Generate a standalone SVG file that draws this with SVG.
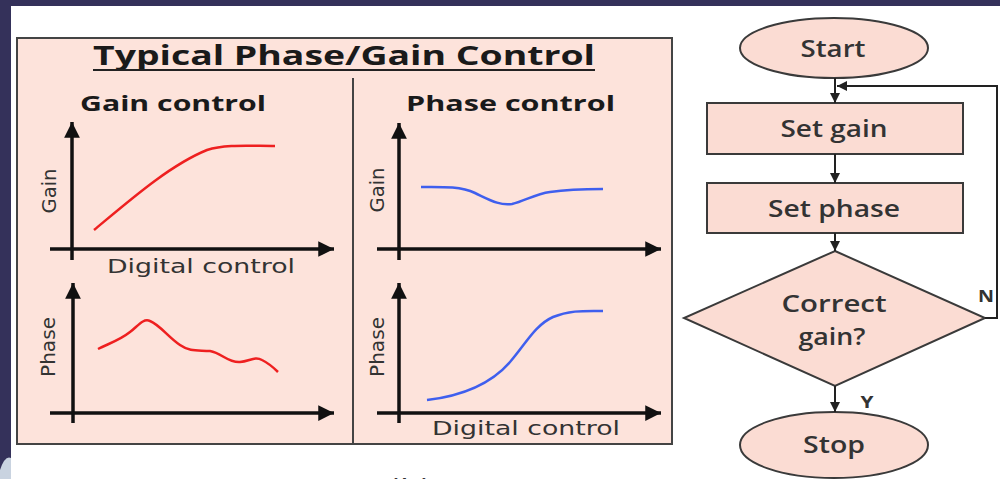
<svg xmlns="http://www.w3.org/2000/svg" width="1000" height="479" viewBox="0 0 1000 479">
<defs>
<style>
.title{font-family:"Open Sans","Liberation Sans",sans-serif;font-weight:700;fill:#1a1a1a}
.sub{font-family:"Open Sans","Liberation Sans",sans-serif;font-weight:700;fill:#1a1a1a;font-size:22px}
.ax{font-family:"DejaVu Sans","Liberation Sans",sans-serif;fill:#333;font-size:19px}
.fc{font-family:"Open Sans","Liberation Sans",sans-serif;font-weight:600;fill:#333;font-size:23px;text-anchor:middle}
.yn{font-family:"Open Sans","Liberation Sans",sans-serif;font-weight:700;fill:#333;font-size:16px;text-anchor:middle}
.axis{stroke:#111;stroke-width:3.5;fill:none}
.node{fill:#fbdcd3;stroke:#3a3a3a;stroke-width:2}
.conn{stroke:#222;stroke-width:2;fill:none}
</style>
<marker id="ah" viewBox="0 0 10 10" refX="10" refY="5" markerWidth="4.5" markerHeight="4.5" orient="auto" markerUnits="strokeWidth"><path d="M0,0 L10,5 L0,10 z" fill="#111"/></marker>
<marker id="fa" viewBox="0 0 10 10" refX="10" refY="5" markerWidth="5" markerHeight="5" orient="auto" markerUnits="strokeWidth"><path d="M0,0 L10,5 L0,10 z" fill="#222"/></marker>
</defs>
<rect x="0" y="0" width="1000" height="479" fill="#34315a"/>
<rect x="11" y="6" width="989" height="473" fill="#ffffff"/>
<path d="M0,470 Q5,455 11,458 L11,479 L0,479 z" fill="#c9d3e0"/>

<g id="panel">
<rect x="17" y="38" width="655" height="406" fill="#fde3db" stroke="#444" stroke-width="2"/>
<line x1="353" y1="78" x2="353" y2="444" stroke="#444" stroke-width="2"/>
<text class="title" x="93" y="65" font-size="26" textLength="502" lengthAdjust="spacingAndGlyphs">Typical Phase/Gain Control</text>
<line x1="93" y1="70" x2="595" y2="70" stroke="#222" stroke-width="2"/>
</g>

<g id="gain-control">
<text class="sub" x="80" y="111" textLength="186" lengthAdjust="spacingAndGlyphs">Gain control</text>
<line class="axis" x1="72" y1="260" x2="72" y2="122" marker-end="url(#ah)"/>
<line class="axis" x1="50" y1="249" x2="334" y2="249" marker-end="url(#ah)"/>
<text class="ax" transform="translate(56,191) rotate(-90)" text-anchor="middle" textLength="45" lengthAdjust="spacingAndGlyphs">Gain</text>
<text class="ax" x="107" y="273" textLength="188" lengthAdjust="spacingAndGlyphs">Digital control</text>
<path d="M94,230 C130,200 170,165 207,150 C225,144 250,146 275,146" fill="none" stroke="#ee2020" stroke-width="2.5"/>
<line class="axis" x1="73" y1="423" x2="73" y2="283" marker-end="url(#ah)"/>
<line class="axis" x1="50" y1="413" x2="334" y2="413" marker-end="url(#ah)"/>
<text class="ax" transform="translate(55,347) rotate(-90)" text-anchor="middle" textLength="60" lengthAdjust="spacingAndGlyphs">Phase</text>
<path d="M98,349 C110,343 120,340 130,332 C138,326 143,318 150,321 C160,325 168,337 180,345 C190,352 198,350 210,351 C222,353 228,363 240,362 C250,361 255,356 262,360 C268,363 274,368 278,372" fill="none" stroke="#ee2020" stroke-width="2.5"/>
</g>

<g id="phase-control">
<text class="sub" x="406" y="111" textLength="209" lengthAdjust="spacingAndGlyphs">Phase control</text>
<line class="axis" x1="399" y1="260" x2="399" y2="123" marker-end="url(#ah)"/>
<line class="axis" x1="377" y1="249" x2="661" y2="249" marker-end="url(#ah)"/>
<text class="ax" transform="translate(384,190) rotate(-90)" text-anchor="middle" textLength="45" lengthAdjust="spacingAndGlyphs">Gain</text>
<path d="M421,187 C440,187 460,186 475,193 C490,200 500,206 512,204 C525,201 535,194 550,192 C570,189 590,189 603,189" fill="none" stroke="#3f5fee" stroke-width="2.5"/>
<line class="axis" x1="399" y1="423" x2="399" y2="283" marker-end="url(#ah)"/>
<line class="axis" x1="377" y1="413" x2="661" y2="413" marker-end="url(#ah)"/>
<text class="ax" transform="translate(384,347) rotate(-90)" text-anchor="middle" textLength="60" lengthAdjust="spacingAndGlyphs">Phase</text>
<text class="ax" x="432" y="435" textLength="188" lengthAdjust="spacingAndGlyphs">Digital control</text>
<path d="M427,400 C460,396 490,385 510,362 C525,345 535,325 553,317 C570,310 585,311 603,311" fill="none" stroke="#3f5fee" stroke-width="2.5"/>
</g>

<text class="ax" x="388" y="493" font-size="24" textLength="44" lengthAdjust="spacingAndGlyphs">(b)</text>

<g id="start">
<ellipse class="node" cx="834" cy="48" rx="94" ry="30"/>
<text class="fc" x="833" y="57" textLength="65" lengthAdjust="spacingAndGlyphs">Start</text>
</g>
<g id="set-gain">
<rect class="node" x="707" y="103" width="256" height="51"/>
<text class="fc" x="834" y="137" textLength="107" lengthAdjust="spacingAndGlyphs">Set gain</text>
</g>
<g id="set-phase">
<rect class="node" x="707" y="183" width="256" height="50"/>
<text class="fc" x="834" y="217" textLength="132" lengthAdjust="spacingAndGlyphs">Set phase</text>
</g>
<g id="decision">
<polygon class="node" points="835,251 985,318 835,386 684,318"/>
<text class="fc" x="834" y="312" textLength="105" lengthAdjust="spacingAndGlyphs">Correct</text>
<text class="fc" x="832" y="345" textLength="67" lengthAdjust="spacingAndGlyphs">gain?</text>
</g>
<g id="stop">
<ellipse class="node" cx="834" cy="445" rx="94" ry="33"/>
<text class="fc" x="834" y="453" textLength="62" lengthAdjust="spacingAndGlyphs">Stop</text>
</g>

<g id="connectors">
<line class="conn" x1="835" y1="78" x2="835" y2="103" marker-end="url(#fa)"/>
<line class="conn" x1="835" y1="154" x2="835" y2="183" marker-end="url(#fa)"/>
<line class="conn" x1="835" y1="233" x2="835" y2="251" marker-end="url(#fa)"/>
<line class="conn" x1="835" y1="386" x2="835" y2="412" marker-end="url(#fa)"/>
<polyline class="conn" points="985,318 997,318 997,86 837,86" marker-end="url(#fa)"/>
<text class="yn" x="986" y="302" textLength="16" lengthAdjust="spacingAndGlyphs">N</text>
<text class="yn" x="867" y="408" textLength="13" lengthAdjust="spacingAndGlyphs">Y</text>
</g>
</svg>
